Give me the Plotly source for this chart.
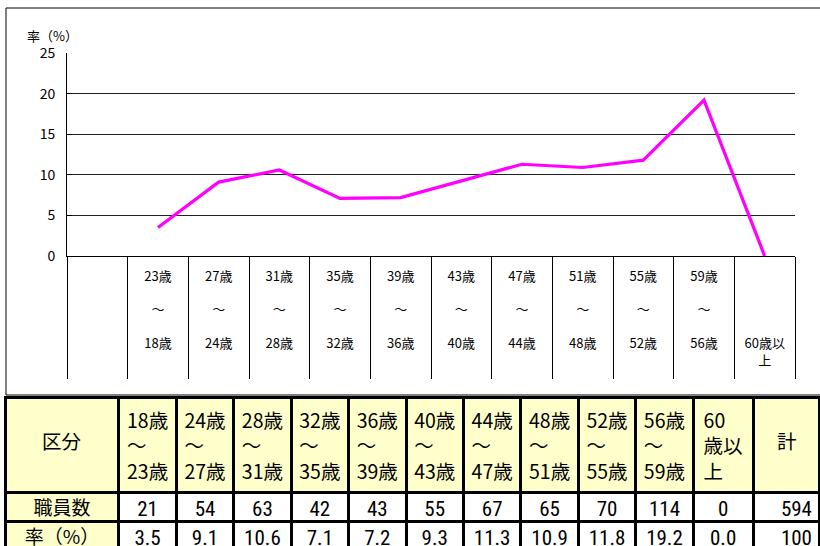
import plotly.graph_objects as go

# ---- data ----
age_start = [18, 24, 28, 32, 36, 40, 44, 48, 52, 56]
age_end = [23, 27, 31, 35, 39, 43, 47, 51, 55, 59]
counts = [21, 54, 63, 42, 43, 55, 67, 65, 70, 114, 0]
rates = [3.5, 9.1, 10.6, 7.1, 7.2, 9.3, 11.3, 10.9, 11.8, 19.2, 0.0]
total_count = 594
total_rate = "100"
row_labels = ["職員数", "率（%）"]
first_header = "区分"
total_header = "計"
y_ticks = [0, 5, 10, 15, 20, 25]
y_grid = [5, 10, 15, 20]

# chart categories: blank first slot, then age groups (Excel shows them upper/lower reversed)
chart_labels = [""] + [f"{e}歳<br><br>～<br><br>{s}歳" for s, e in zip(age_start, age_end)] + ["<br><br><br><br>60歳以<br>上"]
chart_values = [None] + rates
x_idx = list(range(len(chart_labels)))
boundaries = [i - 0.5 for i in range(len(chart_labels) + 1)]

# table (single-word headers are placed mid-cell as annotations below)
header_vals = [""] + [f"{s}歳<br>～<br>{e}歳" for s, e in zip(age_start, age_end)] + ["60<br>歳以<br>上", ""]
cell_cols = [row_labels] + [[c, f"{r:.1f}"] for c, r in zip(counts, rates)] + [[total_count, total_rate]]

W, H = 820, 546
YELLOW = "#FFFFCC"
JP = "Noto Sans CJK JP"
NARROW = "Liberation Sans Narrow, Roboto Condensed, Liberation Sans"

# table geometry (pixels)
TBL_X0, TBL_X1 = 5, W
TBL_TOP = 397
HEAD_H, ROW_H = 91, 29
col_w = [114] + [57.5] * 10 + [60, 67]
scale = (TBL_X1 - TBL_X0) / sum(col_w)
col_left = [TBL_X0 + scale * sum(col_w[:i]) for i in range(len(col_w))]
col_center = [l + scale * w / 2 for l, w in zip(col_left, col_w)]

fig = go.Figure()
fig.add_trace(go.Scatter(
    x=x_idx, y=chart_values, mode="lines",
    line=dict(color="#FF00FF", width=3.2),
    showlegend=False, hoverinfo="skip",
))

ncol = len(header_vals)
fig.add_trace(go.Table(
    domain=dict(x=[TBL_X0 / W, TBL_X1 / W], y=[0, (H - TBL_TOP) / H]),
    columnwidth=col_w,
    header=dict(
        values=header_vals,
        fill_color=YELLOW,
        line=dict(color="black", width=3),
        align="center",
        font=dict(family=JP, size=19.5, color="black"),
        height=HEAD_H,
    ),
    cells=dict(
        values=cell_cols,
        fill_color=[YELLOW] + ["white"] * (ncol - 1),
        line=dict(color="black", width=3),
        align=["center"] * (ncol - 1) + ["right"],
        font=dict(family=[JP] + [NARROW] * (ncol - 1), size=[19] + [21] * (ncol - 1), color="black"),
        height=ROW_H,
    ),
))

head_mid_y = (H - (TBL_TOP + HEAD_H / 2 - 2)) / H
annotations = [dict(text="率（%）", xref="paper", yref="paper",
                    x=52 / W, y=(H - 36) / H, showarrow=False,
                    xanchor="center", yanchor="middle",
                    font=dict(size=13, family=JP, color="black"))]
for txt, cx in ((first_header, col_center[0]), (total_header, col_center[-1])):
    annotations.append(dict(text=txt, xref="paper", yref="paper", x=cx / W, y=head_mid_y,
                            showarrow=False, xanchor="center", yanchor="middle",
                            font=dict(size=19.5, family=JP, color="black")))

fig.update_layout(
    width=W, height=H,
    margin=dict(l=0, r=0, t=0, b=0, autoexpand=False),
    paper_bgcolor="white", plot_bgcolor="white",
    font=dict(family=JP, color="black", size=13),
    xaxis=dict(
        domain=[67 / W, 795 / W],
        range=[-0.5, len(chart_labels) - 0.5],
        tickmode="array", tickvals=x_idx, ticktext=chart_labels,
        ticks="outside", ticklen=8, tickcolor="rgba(0,0,0,0)",
        showline=True, linecolor="black", linewidth=1,
        showgrid=False, zeroline=False, automargin=False,
        tickfont=dict(size=13, family=JP, color="black"),
        minor=dict(tickmode="array", tickvals=boundaries, ticks="outside",
                   ticklen=122, tickcolor="black", tickwidth=1, showgrid=False),
        fixedrange=True,
    ),
    yaxis=dict(
        domain=[(H - 256) / H, (H - 53) / H],
        range=[0, 25],
        tickmode="array", tickvals=y_ticks,
        ticks="inside", ticklen=5, tickcolor="black",
        showline=True, linecolor="black", linewidth=1,
        showgrid=False, zeroline=False, automargin=False,
        ticklabelstandoff=8,
        tickfont=dict(size=14, family=JP, color="black"),
        minor=dict(tickmode="array", tickvals=y_grid, ticks="",
                   showgrid=True, gridcolor="#222", gridwidth=1),
        fixedrange=True,
    ),
    shapes=[dict(type="rect", xref="paper", yref="paper",
                 x0=6 / W, x1=1.02, y0=(H - 395) / H, y1=(H - 8) / H,
                 line=dict(color="black", width=1), layer="below")],
    annotations=annotations,
)

fig.write_html("out.html", config={"displayModeBar": False},
               post_script="document.body.style.margin='0px';")
